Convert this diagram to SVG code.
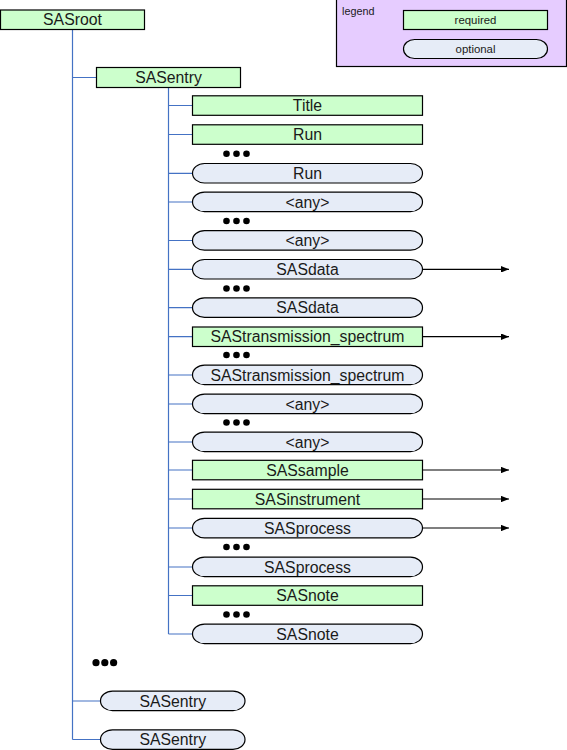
<svg xmlns="http://www.w3.org/2000/svg" width="567" height="750" viewBox="0 0 567 750">
<defs>
<style>
.req{fill:#CCFFCC;stroke:#000;stroke-width:1.2}
.opt{fill:#E6ECF7;stroke:#000;stroke-width:1.2}
.t{font-family:"Liberation Sans",Arial,sans-serif;font-size:15.8px;fill:#1a1a1a;text-anchor:middle}
.ts{font-family:"Liberation Sans",Arial,sans-serif;font-size:11.4px;fill:#1a1a1a;text-anchor:middle}
.tree{stroke:#4472C4;stroke-width:1.2;fill:none}
.arr{stroke:#000;stroke-width:1.2;fill:none}
.dot{fill:#000}
</style>
<marker id="ah" viewBox="0 0 10 8" refX="10" refY="4" markerWidth="8" markerHeight="6.4" markerUnits="userSpaceOnUse" orient="auto">
<path d="M0,0 L10,4 L0,8 Z" fill="#000"/>
</marker>
</defs>
<rect width="567" height="750" fill="#fff"/>
<g id="legend">
<rect x="336.5" y="-1" width="230" height="67.5" fill="#E6CCFF" stroke="#000" stroke-width="1.2"/>
<text x="342" y="15" font-family="Liberation Sans,Arial,sans-serif" font-size="10.8" fill="#1a1a1a">legend</text>
<rect class="req" x="403.5" y="10.5" width="144" height="19"/>
<text class="ts" x="475.5" y="24">required</text>
<rect class="opt" x="403.5" y="39.5" width="144" height="19" rx="11" ry="9.5"/>
<text class="ts" x="475.5" y="53">optional</text>
</g>
<g id="connectors">
<path class="tree" d="M72.5,29.5 V739.5 M72.5,77.5 H96.5 M72.5,701 H100.5 M72.5,739.5 H100.5"/>
<path class="tree" d="M168.5,87.5 V634 M168.5,105.5 H192.5 M168.5,134.5 H192.5 M168.5,173.3 H192.5 M168.5,202 H192.5 M168.5,240.5 H192.5 M168.5,269.3 H192.5 M168.5,307.7 H192.5 M168.5,336.7 H192.5 M168.5,375 H192.5 M168.5,404 H192.5 M168.5,442 H192.5 M168.5,470 H192.5 M168.5,499 H192.5 M168.5,528 H192.5 M168.5,567 H192.5 M168.5,595.5 H192.5 M168.5,634 H192.5"/>
<line class="arr" x1="422.5" y1="269.3" x2="509" y2="269.3" marker-end="url(#ah)"/>
<line class="arr" x1="422.5" y1="336.7" x2="509" y2="336.7" marker-end="url(#ah)"/>
<line class="arr" x1="422.5" y1="470" x2="509" y2="470" marker-end="url(#ah)"/>
<line class="arr" x1="422.5" y1="499" x2="509" y2="499" marker-end="url(#ah)"/>
<line class="arr" x1="422.5" y1="528" x2="509" y2="528" marker-end="url(#ah)"/>
</g>
<g id="SASroot"><rect class="req" x="0.5" y="10" width="144" height="19.5"/><text class="t" x="72.5" y="25.2">SASroot</text></g>
<g id="SASentry"><rect class="req" x="96.5" y="67.5" width="144" height="20"/><text class="t" x="168.5" y="83">SASentry</text></g>
<g id="Title"><rect class="req" x="192.5" y="95.8" width="230" height="19.5"/><text class="t" x="307.5" y="111">Title</text></g>
<g id="Run1"><rect class="req" x="192.5" y="124.8" width="230" height="19.5"/><text class="t" x="307.5" y="140">Run</text></g>
<g id="dots1"><circle class="dot" cx="226.5" cy="153.7" r="3.3"/><circle class="dot" cx="236.5" cy="153.7" r="3.3"/><circle class="dot" cx="246.5" cy="153.7" r="3.3"/></g>
<g id="Run2"><rect class="opt" x="192.5" y="163.5" width="230" height="19.5" rx="12" ry="9.75"/><text class="t" x="307.5" y="178.8">Run</text></g>
<g id="any1"><rect class="opt" x="192.5" y="192.2" width="230" height="19.5" rx="12" ry="9.75"/><text class="t" x="307.5" y="207.5">&lt;any&gt;</text></g>
<g id="dots2"><circle class="dot" cx="226.5" cy="221" r="3.3"/><circle class="dot" cx="236.5" cy="221" r="3.3"/><circle class="dot" cx="246.5" cy="221" r="3.3"/></g>
<g id="any2"><rect class="opt" x="192.5" y="230.7" width="230" height="19.5" rx="12" ry="9.75"/><text class="t" x="307.5" y="246">&lt;any&gt;</text></g>
<g id="SASdata1"><rect class="opt" x="192.5" y="259.5" width="230" height="19.5" rx="12" ry="9.75"/><text class="t" x="307.5" y="274.8">SASdata</text></g>
<g id="dots3"><circle class="dot" cx="226.5" cy="288.5" r="3.3"/><circle class="dot" cx="236.5" cy="288.5" r="3.3"/><circle class="dot" cx="246.5" cy="288.5" r="3.3"/></g>
<g id="SASdata2"><rect class="opt" x="192.5" y="297.9" width="230" height="19.5" rx="12" ry="9.75"/><text class="t" x="307.5" y="313.2">SASdata</text></g>
<g id="SAStrans1"><rect class="req" x="192.5" y="327" width="230" height="19.5"/><text class="t" x="307.5" y="342.2">SAStransmission_spectrum</text></g>
<g id="dots4"><circle class="dot" cx="226.5" cy="355" r="3.3"/><circle class="dot" cx="236.5" cy="355" r="3.3"/><circle class="dot" cx="246.5" cy="355" r="3.3"/></g>
<g id="SAStrans2"><rect class="opt" x="192.5" y="365.2" width="230" height="19.5" rx="12" ry="9.75"/><text class="t" x="307.5" y="380.5">SAStransmission_spectrum</text></g>
<g id="any3"><rect class="opt" x="192.5" y="394.2" width="230" height="19.5" rx="12" ry="9.75"/><text class="t" x="307.5" y="409.5">&lt;any&gt;</text></g>
<g id="dots5"><circle class="dot" cx="226.5" cy="422.5" r="3.3"/><circle class="dot" cx="236.5" cy="422.5" r="3.3"/><circle class="dot" cx="246.5" cy="422.5" r="3.3"/></g>
<g id="any4"><rect class="opt" x="192.5" y="432.2" width="230" height="19.5" rx="12" ry="9.75"/><text class="t" x="307.5" y="447.5">&lt;any&gt;</text></g>
<g id="SASsample"><rect class="req" x="192.5" y="460.3" width="230" height="19.5"/><text class="t" x="307.5" y="475.5">SASsample</text></g>
<g id="SASinstrument"><rect class="req" x="192.5" y="489.3" width="230" height="19.5"/><text class="t" x="307.5" y="504.5">SASinstrument</text></g>
<g id="SASprocess1"><rect class="opt" x="192.5" y="518.3" width="230" height="19.5" rx="12" ry="9.75"/><text class="t" x="307.5" y="533.5">SASprocess</text></g>
<g id="dots6"><circle class="dot" cx="226.5" cy="547" r="3.3"/><circle class="dot" cx="236.5" cy="547" r="3.3"/><circle class="dot" cx="246.5" cy="547" r="3.3"/></g>
<g id="SASprocess2"><rect class="opt" x="192.5" y="557.2" width="230" height="19.5" rx="12" ry="9.75"/><text class="t" x="307.5" y="572.5">SASprocess</text></g>
<g id="SASnote1"><rect class="req" x="192.5" y="585.8" width="230" height="19.5"/><text class="t" x="307.5" y="601">SASnote</text></g>
<g id="dots7"><circle class="dot" cx="226.5" cy="614.5" r="3.3"/><circle class="dot" cx="236.5" cy="614.5" r="3.3"/><circle class="dot" cx="246.5" cy="614.5" r="3.3"/></g>
<g id="SASnote2"><rect class="opt" x="192.5" y="624.2" width="230" height="19.5" rx="12" ry="9.75"/><text class="t" x="307.5" y="639.5">SASnote</text></g>
<g id="dots8"><circle class="dot" cx="96" cy="662.7" r="3.6"/><circle class="dot" cx="104.8" cy="662.7" r="3.6"/><circle class="dot" cx="113.6" cy="662.7" r="3.6"/></g>
<g id="SASentry2"><rect class="opt" x="100.5" y="691.2" width="144.5" height="19.5" rx="12" ry="9.75"/><text class="t" x="172.8" y="706.5">SASentry</text></g>
<g id="SASentry3"><rect class="opt" x="100.5" y="729.8" width="144.5" height="19.5" rx="12" ry="9.75"/><text class="t" x="172.8" y="745">SASentry</text></g>
</svg>
